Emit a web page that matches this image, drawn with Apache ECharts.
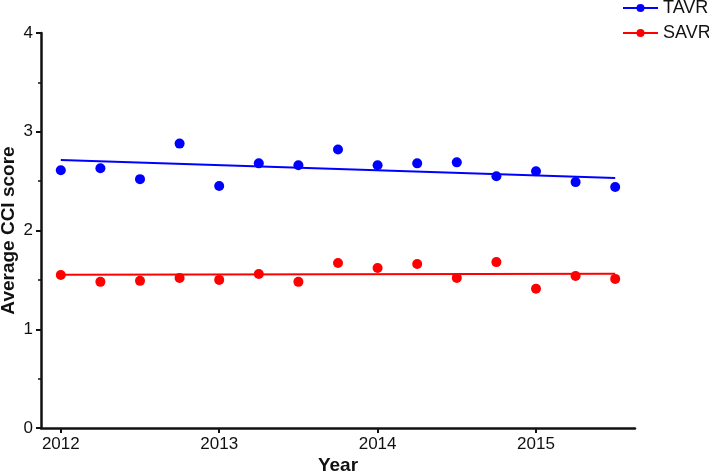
<!DOCTYPE html>
<html>
<head>
<meta charset="utf-8">
<script src="https://cdn.jsdelivr.net/npm/echarts@6/dist/echarts.min.js"></script>
<style>
html,body{margin:0;padding:0;background:#fff;}
#chart{width:709px;height:476px;}
</style>
</head>
<body>
<div id="chart"></div>
<script>
var quarters = [2012, 2012.25, 2012.5, 2012.75, 2013, 2013.25, 2013.5, 2013.75, 2014, 2014.25, 2014.5, 2014.75, 2015, 2015.25, 2015.5];
var tavrValues = [2.61, 2.63, 2.52, 2.88, 2.45, 2.68, 2.66, 2.82, 2.66, 2.68, 2.69, 2.55, 2.60, 2.49, 2.44];
var savrValues = [1.55, 1.48, 1.49, 1.52, 1.50, 1.56, 1.48, 1.67, 1.62, 1.66, 1.52, 1.68, 1.41, 1.54, 1.51];
var fitYears = [2012, 2015.5];
var tavrFit = [2.714, 2.532];
var savrFit = [1.553, 1.563];
var xTickLabels = [2012, 2013, 2014, 2015];
var yTickLabels = [0, 1, 2, 3, 4];

function pairs(xs, ys) { return xs.map(function (x, i) { return [x, ys[i]]; }); }

var FONT = 'Liberation Sans, Arial, sans-serif';
var BLUE = '#0000FF', RED = '#FF0000';

var chart = echarts.init(document.getElementById('chart'), null, {renderer: 'canvas'});
chart.setOption({
  animation: false,
  backgroundColor: '#fff',
  grid: {left: 41, right: 74, top: 33, bottom: 48, containLabel: false, outerBoundsMode: 'none'},
  legend: {
    data: ['TAVR', 'SAVR'],
    orient: 'vertical',
    left: 617, top: -6,
    itemWidth: 35, itemHeight: 10, itemGap: 7,
    textStyle: {fontFamily: FONT, fontSize: 18, color: '#111'}
  },
  xAxis: {
    type: 'value',
    min: 2011.875, max: 2015.625,
    name: 'Year', nameLocation: 'middle', nameGap: 28, nameMoveOverlap: false,
    nameTextStyle: {fontFamily: FONT, fontSize: 19, fontWeight: 'bold', color: '#111'},
    axisLine: {show: true, onZero: false, lineStyle: {color: '#111', width: 2.5}},
    axisTick: {show: true, length: 5, lineStyle: {color: '#111', width: 2}, customValues: xTickLabels},
    axisLabel: {color: '#111', fontFamily: FONT, fontSize: 17, margin: 8, customValues: xTickLabels,
      formatter: function (v) { return String(v); }},
    splitLine: {show: false}
  },
  yAxis: {
    type: 'value',
    min: 0, max: 4, interval: 1,
    name: 'Average CCI score', nameLocation: 'middle', nameGap: 23, nameMoveOverlap: false,
    nameTextStyle: {fontFamily: FONT, fontSize: 19, fontWeight: 'bold', color: '#111'},
    axisLine: {show: true, onZero: false, lineStyle: {color: '#111', width: 2.5}},
    axisTick: {show: true, length: 5, lineStyle: {color: '#111', width: 2}},
    minorTick: {show: true, splitNumber: 2, length: 3, lineStyle: {color: '#111', width: 1.5}},
    axisLabel: {color: '#111', fontFamily: FONT, fontSize: 17, margin: 8,
      formatter: function (v) { return yTickLabels.indexOf(v) >= 0 ? String(v) : ''; }},
    splitLine: {show: false}
  },
  series: [
    {name: 'TAVR', type: 'line', data: pairs(fitYears, tavrFit), symbol: 'circle', symbolSize: 9, showSymbol: false,
      lineStyle: {color: BLUE, width: 2}, itemStyle: {color: BLUE}, z: 2},
    {name: 'SAVR', type: 'line', data: pairs(fitYears, savrFit), symbol: 'circle', symbolSize: 9, showSymbol: false,
      lineStyle: {color: RED, width: 2}, itemStyle: {color: RED}, z: 2},
    {name: 'TAVR', type: 'scatter', data: pairs(quarters, tavrValues), symbol: 'circle', symbolSize: 10,
      itemStyle: {color: BLUE, opacity: 1}, z: 3},
    {name: 'SAVR', type: 'scatter', data: pairs(quarters, savrValues), symbol: 'circle', symbolSize: 10,
      itemStyle: {color: RED, opacity: 1}, z: 3}
  ]
});
</script>
</body>
</html>
